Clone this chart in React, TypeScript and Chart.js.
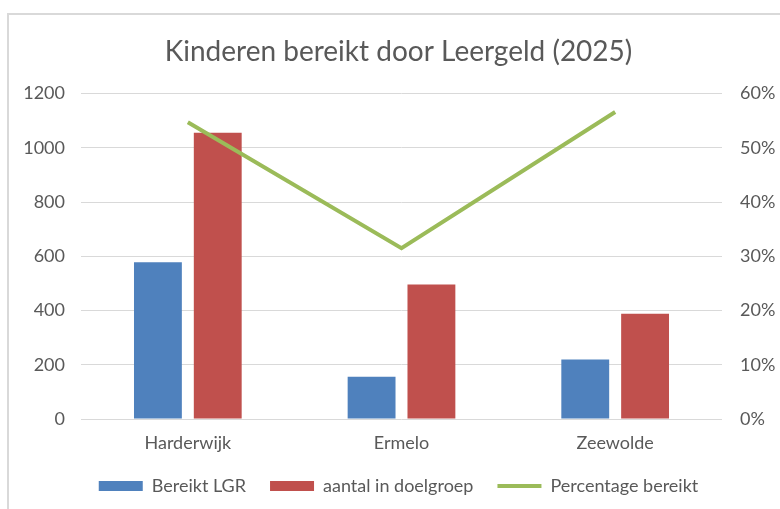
import React, { useEffect, useRef } from "react";
import { Chart, registerables } from "chart.js";

Chart.register(...registerables);

const categories = ["Harderwijk", "Ermelo", "Zeewolde"];
const bereiktLGR = [578, 156, 219];
const aantalDoelgroep = [1056, 496, 388];
const percentageBereikt = [54.7, 31.5, 56.6];
const leftTicks = [0, 200, 400, 600, 800, 1000, 1200];
const rightTicks = [0, 10, 20, 30, 40, 50, 60];

const FONT = "Lato, 'Open Sans', sans-serif";
const TEXT = "#595959";
const GRID = "#d9d9d9";
const LINE_COLOR = "#9BBB59";

export default function App() {
  const ref = useRef<HTMLCanvasElement | null>(null);

  useEffect(() => {
    document.body.style.margin = "0";
    const ctx = ref.current!;
    const chart = new Chart(ctx, {
      type: "bar",
      data: {
        labels: categories,
        datasets: [
          {
            type: "bar",
            label: "Bereikt LGR",
            data: bereiktLGR,
            backgroundColor: "#4F81BD",
            borderWidth: 0,
            yAxisID: "y",
            order: 2,
            barPercentage: 0.8,
            categoryPercentage: 0.56,
          },
          {
            type: "bar",
            label: "aantal in doelgroep",
            data: aantalDoelgroep,
            backgroundColor: "#C0504D",
            borderWidth: 0,
            yAxisID: "y",
            order: 2,
            barPercentage: 0.8,
            categoryPercentage: 0.56,
          },
          {
            type: "line",
            label: "Percentage bereikt",
            data: percentageBereikt,
            borderColor: LINE_COLOR,
            backgroundColor: LINE_COLOR,
            borderWidth: 4,
            pointRadius: 0,
            tension: 0,
            yAxisID: "y1",
            order: 1,
          } as any,
        ],
      },
      options: {
        animation: false,
        responsive: false,
        maintainAspectRatio: false,
        layout: { padding: { left: 17, right: 0, top: 0, bottom: 4 } },
        plugins: {
          title: {
            display: true,
            text: "Kinderen bereikt door Leergeld (2025)",
            color: TEXT,
            font: { family: FONT, size: 28, weight: "normal" },
            padding: { top: 35, bottom: 25 },
          },
          legend: {
            position: "bottom",
            labels: {
              color: TEXT,
              font: { family: FONT, size: 18 },
              usePointStyle: true,
              pointStyleWidth: 44,
              boxHeight: 10,
              padding: 24,
              generateLabels: (c: any) => {
                const items = Chart.defaults.plugins.legend.labels.generateLabels(c);
                return items
                  .sort((a: any, b: any) => a.datasetIndex - b.datasetIndex)
                  .map((it: any) => {
                    const isLine = it.datasetIndex === 2;
                    return {
                      ...it,
                      pointStyle: isLine ? "line" : "rect",
                      lineWidth: isLine ? 4 : 0,
                      strokeStyle: isLine ? LINE_COLOR : it.fillStyle,
                    };
                  });
              },
            },
          },
          tooltip: { enabled: false },
        },
        scales: {
          x: {
            grid: { display: false, drawTicks: false },
            border: { display: false },
            ticks: { color: TEXT, font: { family: FONT, size: 18 }, padding: 13 },
            afterFit: (s: any) => {
              s.height = 34;
            },
          },
          y: {
            position: "left",
            min: 0,
            max: 1200,
            afterBuildTicks: (s: any) => {
              s.ticks = leftTicks.map((v) => ({ value: v }));
            },
            grid: { color: GRID, lineWidth: 1, drawTicks: false },
            border: { display: false },
            ticks: {
              color: TEXT,
              font: { family: FONT, size: 18 },
              padding: 16,
              callback: (v: any) => String(v),
            },
            afterFit: (s: any) => {
              s.width = 64;
            },
          },
          y1: {
            position: "right",
            min: 0,
            max: 60,
            afterBuildTicks: (s: any) => {
              s.ticks = rightTicks.map((v) => ({ value: v }));
            },
            grid: { display: false, drawTicks: false },
            border: { display: false },
            ticks: {
              color: TEXT,
              font: { family: FONT, size: 18 },
              padding: 18,
              callback: (v: any) => v + "%",
            },
            afterFit: (s: any) => {
              s.width = 58;
            },
          },
        },
      },
    });
    return () => chart.destroy();
  }, []);

  return (
    <div style={{ position: "relative", width: 780, height: 509, background: "#fff", overflow: "hidden" }}>
      <div
        style={{
          position: "absolute",
          left: 7,
          top: 13,
          width: 800,
          height: 520,
          borderLeft: "2px solid #d9d9d9",
          borderTop: "2px solid #d9d9d9",
          boxSizing: "border-box",
        }}
      />
      <canvas ref={ref} width={780} height={509} style={{ position: "absolute", left: 0, top: 0 }} />
    </div>
  );
}
